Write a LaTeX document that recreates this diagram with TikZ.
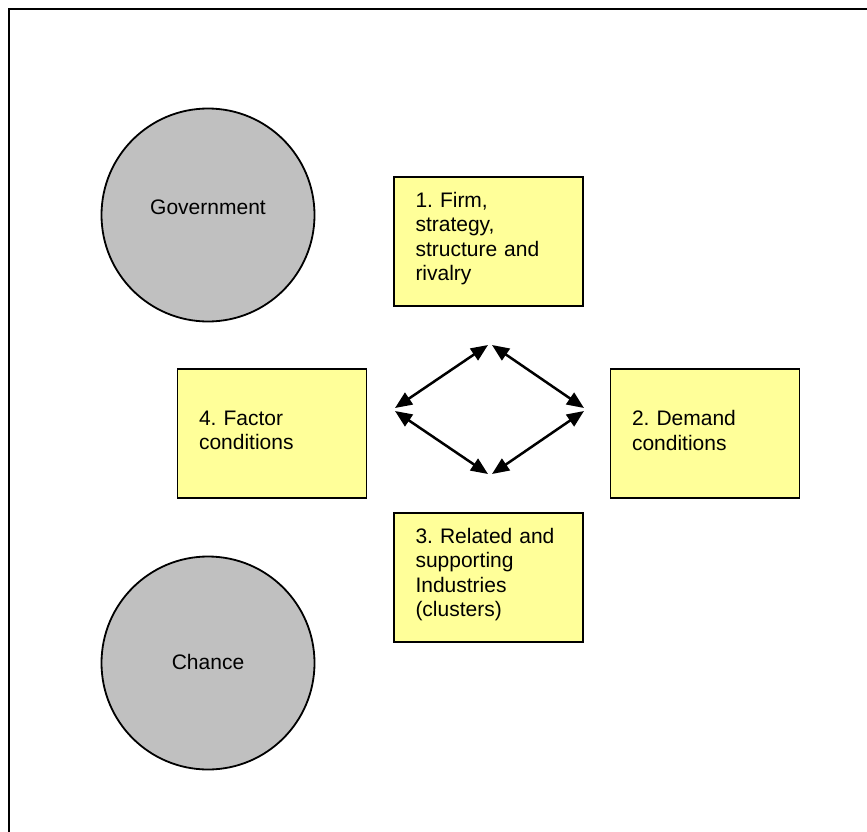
\documentclass[tikz,border=0pt]{standalone}
\usepackage{fontspec}
\setmainfont{Liberation Sans}
\usetikzlibrary{arrows.meta}
\definecolor{boxyellow}{HTML}{FFFF99}
\definecolor{circgray}{HTML}{C0C0C0}
\frenchspacing
\newcommand{\boxtext}[1]{\parbox{146pt}{#1\par\vspace*{6pt}}}
\begin{document}
\begin{tikzpicture}[x=1pt,y=-1pt,
  factorbox/.style={draw=black, line width=1.8pt, fill=boxyellow, minimum width=189pt, minimum height=129pt,
    text width=146pt, inner xsep=21.5pt, align=left, font=\fontsize{21}{24.3}\selectfont},
  actorcirc/.style={circle, draw=black, line width=1.8pt, fill=circgray, minimum size=213pt, inner sep=0pt,
    font=\fontsize{21}{24.3}\selectfont},
  linkarrow/.style={{Triangle[length=17pt,width=14pt]}-{Triangle[length=17pt,width=14pt]}, line width=2.5pt}]
\useasboundingbox (0,0) rectangle (867,832);
\fill[white] (0,0) rectangle (867,832);
\draw[line width=2.5pt] (9,833) -- (9,9) -- (868,9);
\node[actorcirc] (gov) at (208,215) {\raisebox{15pt}{Government}};
\node[actorcirc] (chance) at (208,663) {\raisebox{2pt}{Chance}};
\node[factorbox] (firm) at (488.5,241.5) {\boxtext{1. Firm,\\strategy,\\structure and\\rivalry}};
\node[factorbox] (factor) at (272,433.5) {\boxtext{4. Factor\\conditions}};
\node[factorbox] (demand) at (705,433.5) {\boxtext{2. Demand\\conditions}};
\node[factorbox] (related) at (488.5,577.5) {\boxtext{3. Related and\\supporting\\Industries\\(clusters)}};
\coordinate (topL) at (488,345);
\coordinate (topR) at (492,345);
\coordinate (leftU) at (395,408);
\coordinate (leftD) at (395,411);
\coordinate (rightU) at (584,408);
\coordinate (rightD) at (584,411);
\coordinate (botL) at (488,474);
\coordinate (botR) at (492,474);
\draw[linkarrow] (topL) -- (leftU);
\draw[linkarrow] (topR) -- (rightU);
\draw[linkarrow] (leftD) -- (botL);
\draw[linkarrow] (rightD) -- (botR);
\end{tikzpicture}
\end{document}
